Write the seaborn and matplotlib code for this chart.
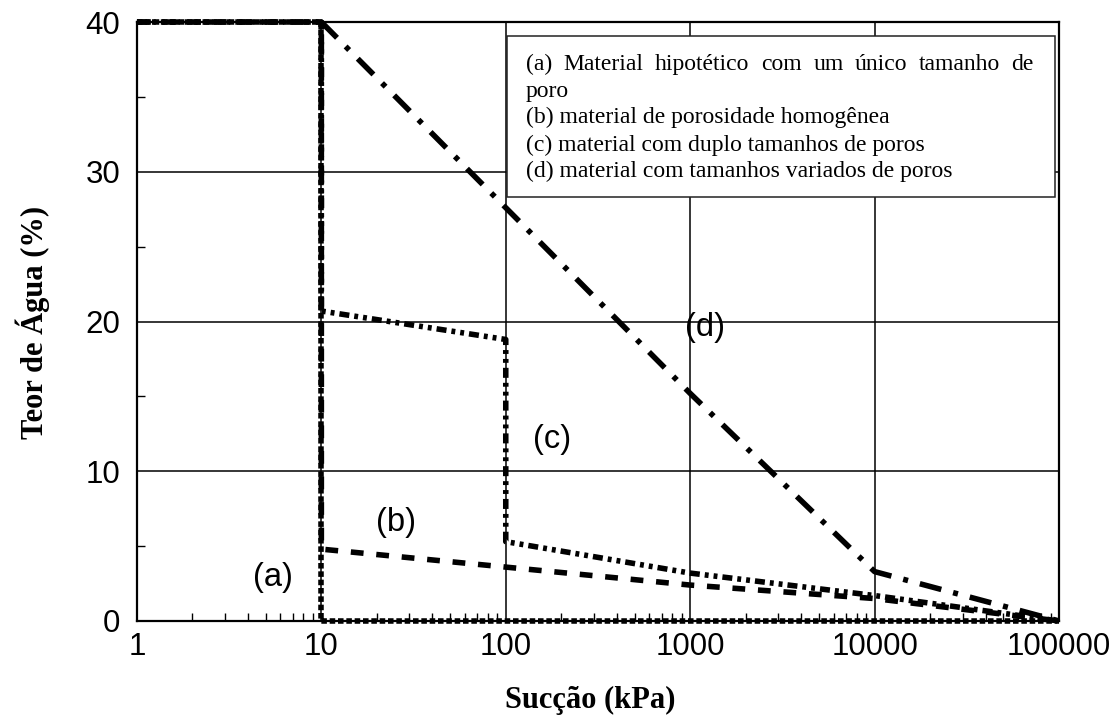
import numpy as np
import pandas as pd
import matplotlib
matplotlib.use("Agg")
import matplotlib.pyplot as plt
from matplotlib.patches import Rectangle
from matplotlib.ticker import LogLocator, NullFormatter
import seaborn as sns

# ── Curvas de retenção ─────────────────────────────────────────────────────
a_x = [1, 10, 10, 100000]
a_y = [40, 40, 0, 0]
b_x = [1, 10, 10, 100, 1000, 10000, 100000]
b_y = [40, 40, 4.8, 3.6, 2.4, 1.5, 0]
c_x = [1, 10, 10, 100, 100, 1000, 10000, 100000]
c_y = [40, 40, 20.7, 18.8, 5.3, 3.2, 1.7, 0]
d_x = [10, 100, 1000, 10000, 100000]
d_y = [40, 27.6, 15.2, 3.3, 0]

x_ticks = [1, 10, 100, 1000, 10000, 100000]
x_tick_labels = ['1', '10', '100', '1000', '10000', '100000']
y_ticks = [0, 10, 20, 30, 40]
y_tick_labels = ['0', '10', '20', '30', '40']
y_minor = [5, 15, 25, 35]

curve_names = ['(a)', '(b)', '(c)', '(d)']
legend_first = "(a) Material hipotético com um único tamanho de"
legend_rest = [
    "poro",
    "(b) material de porosidade homogênea",
    "(c) material com duplo tamanhos de poros",
    "(d) material com tamanhos variados de poros",
]

rows = []
for name, xs, ys in zip(curve_names, [a_x, b_x, c_x, d_x], [a_y, b_y, c_y, d_y]):
    for i, (xv, yv) in enumerate(zip(xs, ys)):
        rows.append({'Succao': xv, 'Teor': yv, 'curva': name, 'ordem': i})
df = pd.DataFrame(rows)

# padrões de traço em unidades de espessura de linha
dash_map = {
    '(a)': (1.0, 0.5),
    '(b)': (2.3, 2.3),
    '(c)': (1.8, 0.9, 0.7, 0.9, 0.7, 0.9),
    '(d)': (4.0, 2.2, 0.9, 2.2),
}

sns.set_style('white')
plt.rcParams['font.family'] = ['Liberation Sans', 'DejaVu Sans']
plt.rcParams['text.color'] = 'black'
plt.rcParams['axes.labelcolor'] = 'black'
plt.rcParams['xtick.color'] = 'black'
plt.rcParams['ytick.color'] = 'black'

fig = plt.figure(figsize=(11.18, 7.2), dpi=100)
ax = fig.add_axes([0.1225, 0.1375, 0.8247, 0.8319])
ax.set_xscale('log')

sns.lineplot(data=df, x='Succao', y='Teor', style='curva', dashes=dash_map,
             color='black', linewidth=4.0, estimator=None, sort=False,
             legend=False, ax=ax, clip_on=False, zorder=3)

ax.set_xlim(1, 100000)
ax.set_ylim(0, 40)
ax.set_xticks(x_ticks)
ax.set_xticklabels(x_tick_labels)
ax.set_yticks(y_ticks)
ax.set_yticklabels(y_tick_labels)
ax.xaxis.set_minor_locator(LogLocator(base=10, subs=np.arange(2, 10)))
ax.xaxis.set_minor_formatter(NullFormatter())
ax.set_yticks(y_minor, minor=True)

ax.grid(True, which='major', color='black', linewidth=1.1)
ax.grid(False, which='minor')
for s in ax.spines.values():
    s.set_color('black')
    s.set_linewidth(1.6)

ax.tick_params(axis='x', which='major', direction='in', length=0, pad=8,
               labelsize=22.5, labelcolor='black')
ax.tick_params(axis='x', which='minor', direction='in', length=5.5, width=1.0,
               bottom=True, top=False, colors='black')
ax.tick_params(axis='y', which='major', direction='in', length=0, pad=12,
               labelsize=22.5, labelcolor='black')
ax.tick_params(axis='y', which='minor', direction='in', length=6, width=1.0,
               left=True, right=False, colors='black')
ax.set_xlabel('')
ax.set_ylabel('')

# rótulos das curvas
lab = dict(ha='center', va='center', fontsize=23.5, color='black')
ax.text(5.46, 2.9, '(a)', **lab)
ax.text(25.4, 6.6, '(b)', **lab)
ax.text(178, 12.1, '(c)', **lab)
ax.text(1200, 19.6, '(d)', **lab)

# caixa de legenda
ax.add_patch(Rectangle((0.4013, 0.7078), 0.5944, 0.2688, transform=ax.transAxes,
                       facecolor='white', edgecolor='#222222', linewidth=1.1,
                       zorder=6, clip_on=False))

serif = dict(family=['Liberation Serif', 'DejaVu Serif'], fontsize=17, color='black', zorder=7)
fig.canvas.draw()
rend = fig.canvas.get_renderer()
ax_w = ax.get_window_extent(rend).width
words = legend_first.split()
arts = [ax.text(0, 0.9299, w, transform=ax.transAxes, va='center', **serif) for w in words]
widths = [a.get_window_extent(rend).width / ax_w for a in arts]
x0, x1 = 0.4219, 0.9729
gap = (x1 - x0 - sum(widths)) / (len(words) - 1)
xpos = x0
for a, w in zip(arts, widths):
    a.set_x(xpos)
    xpos += w + gap

for line, yy in zip(legend_rest, [0.8848, 0.8414, 0.7947, 0.7513]):
    ax.text(x0, yy, line, transform=ax.transAxes, va='center', **serif)

fig.text(590 / 1118, 1 - 700 / 720, 'Sucção (kPa)', ha='center', va='center',
         fontsize=22, fontweight='bold', color='black',
         family=['Liberation Serif', 'DejaVu Serif'])
fig.text(33 / 1118, 1 - 322 / 720, 'Teor de Água (%)', ha='center', va='center',
         rotation=90, fontsize=22, fontweight='bold', color='black',
         family=['Liberation Serif', 'DejaVu Serif'])

fig.savefig('out.png', dpi=100, facecolor='white')
plt.close(fig)
